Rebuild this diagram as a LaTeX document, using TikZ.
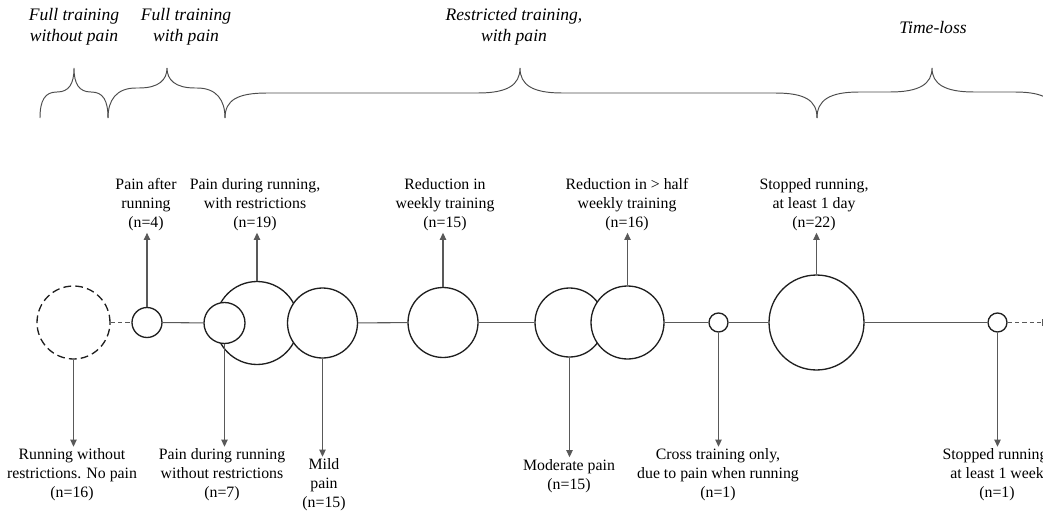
\documentclass[tikz,border=0pt]{standalone}
\usepackage{fontspec}
\setmainfont{Liberation Serif}
\usetikzlibrary{arrows.meta}

% curly bracket over a span: left end, tip, right end, curve width, level
\newcommand{\drawbrace}[5]{%
  \draw[bracestyle] (#1,118) .. controls (#1,100) and ({#1+0.3*#4},#5) .. ({#1+#4},#5)
    -- ({#2-#4},#5) .. controls ({#2-0.3*#4},#5) and (#2,{#5-8}) .. (#2,68)
    .. controls (#2,{#5-8}) and ({#2+0.3*#4},#5) .. ({#2+#4},#5)
    -- ({#3-#4},#5) .. controls ({#3-0.3*#4},#5) and (#3,100) .. (#3,118);}

\tikzset{
  stage/.style={draw=black!88, line width=0.75pt, circle, inner sep=0pt, fill=white},
  link/.style={draw=black!65, line width=0.6pt},
  dashlink/.style={link, dash pattern=on 2.4pt off 1.8pt},
  arr/.style={link, -{Triangle[length=4pt,width=3.6pt]}},
  lbl/.style={font=\fontsize{9}{10.8}\selectfont, align=center, inner sep=1pt},
  head/.style={font=\fontsize{10}{12}\selectfont\itshape, align=center, inner sep=0pt},
  bracestyle/.style={draw=black!70, line width=0.55pt}
}

\begin{document}
\begin{tikzpicture}[x=0.02cm, y=-0.02cm]
\useasboundingbox (0,0) rectangle (1043,510);
\clip (0,0) rectangle (1043,510);

% phase headings
\node[head] (h1) at (74,26.5) {Full training\\without pain};
\node[head] (h2) at (186,26.5) {Full training\\with pain};
\node[head] (h3) at (514,26.5) {Restricted training,\\with pain};
\node[head] (h4) at (933,27) {Time-loss};

% brackets under the headings
\drawbrace{40}{74}{108}{17}{92}
\drawbrace{108}{167}{225}{28}{88}
\drawbrace{225}{520}{817}{42}{93}
\drawbrace{817}{932}{1057}{42}{92}

% stages along the timeline
\node[stage, dash pattern=on 4.4pt off 2.4pt, minimum size=1.46cm] (c0) at (73.5,322.5) {};
\node[stage, minimum size=0.6cm] (c1) at (147,322.5) {};
\node[stage, minimum size=1.66cm] (c2) at (257,323) {};
\node[stage, minimum size=0.82cm] (c3) at (224.5,323) {};
\node[stage, minimum size=1.4cm] (c4) at (322.5,323) {};
\node[stage, minimum size=1.4cm] (c5) at (443,322.5) {};
\node[stage, minimum size=1.38cm] (c6) at (569.5,322.5) {};
\node[stage, minimum size=1.46cm] (c7) at (627.5,322.5) {};
\node[stage, minimum size=0.38cm] (c8) at (718.5,322.5) {};
\node[stage, minimum size=1.9cm] (c9) at (816.5,322.5) {};
\node[stage, minimum size=0.38cm] (c10) at (997.5,322.5) {};
\coordinate (tail) at (1047,322.5);

% timeline segments
\draw[dashlink] (c0) -- (c1);
\draw[link] (c1) -- (c3);
\draw[link] (c4) -- (c5);
\draw[link] (c5) -- (c6);
\draw[link] (c7) -- (c8);
\draw[link] (c8) -- (c9);
\draw[link] (c9) -- (c10);
\draw[dashlink, -{Square[length=3pt,width=3.5pt]}] (c10) -- (tail);

% labels above
\node[lbl] (u1) at (146,204.5) {Pain after\\running\\(n=4)};
\node[lbl] (u2) at (255,204.5) {Pain during running,\\with restrictions\\(n=19)};
\node[lbl] (u3) at (445,204.5) {Reduction in\\weekly training\\(n=15)};
\node[lbl] (u4) at (627,204.5) {Reduction in > half\\weekly training\\(n=16)};
\node[lbl] (u5) at (814,204.5) {Stopped running,\\at least 1 day\\(n=22)};

% labels below
\node[lbl] (d1) at (72,475) {Running without\\restrictions. No pain\\(n=16)};
\node[lbl] (d2) at (222,475) {Pain during running\\without restrictions\\(n=7)};
\node[lbl] (d3) at (324,485) {Mild\\pain\\(n=15)};
\node[lbl] (d4) at (569,476) {Moderate pain\\(n=15)};
\node[lbl] (d5) at (718,475) {Cross training only,\\due to pain when running\\(n=1)};
\node[lbl] (d6) at (997,475) {Stopped running,\\at least 1 week\\(n=1)};

% arrows to the labels
\draw[arr] (c1.north) -- (c1.north |- u1.south);
\draw[arr] (c2.north) -- (c2.north |- u2.south);
\draw[arr] (c5.north) -- (c5.north |- u3.south);
\draw[arr] (c7.north) -- (c7.north |- u4.south);
\draw[arr] (c9.north) -- (c9.north |- u5.south);
\draw[arr] (c0.south) -- (c0.south |- d1.north);
\draw[arr] (c3.south) -- (c3.south |- d2.north);
\draw[arr] (c4.south) -- (c4.south |- d3.north);
\draw[arr] (c6.south) -- (c6.south |- d4.north);
\draw[arr] (c8.south) -- (c8.south |- d5.north);
\draw[arr] (c10.south) -- (c10.south |- d6.north);
\end{tikzpicture}
\end{document}
